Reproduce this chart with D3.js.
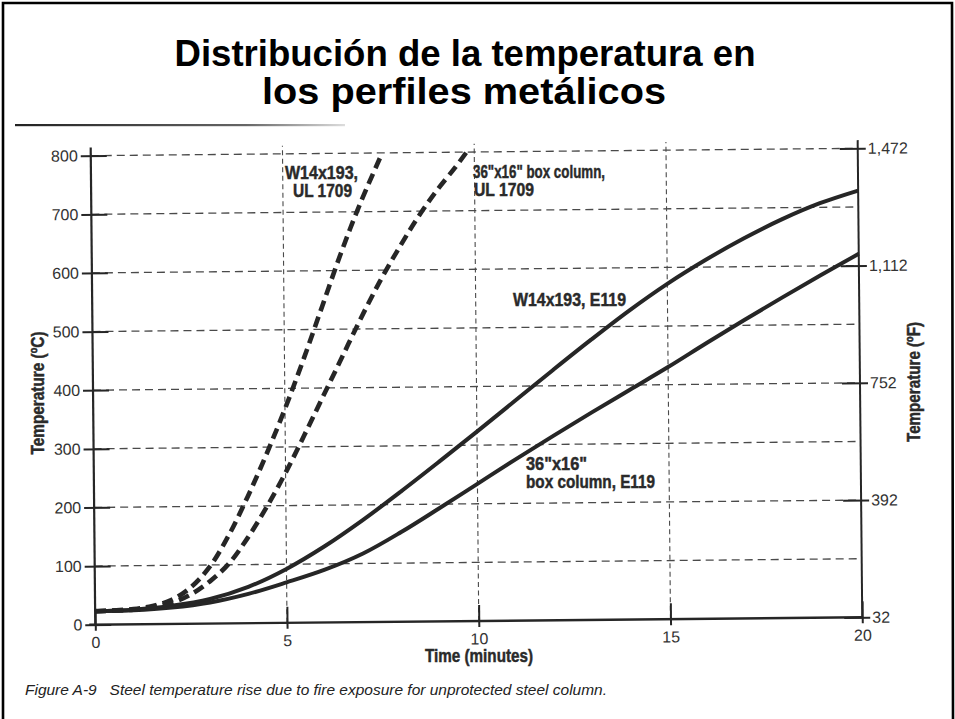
<!DOCTYPE html>
<html><head><meta charset="utf-8">
<script src="https://cdn.jsdelivr.net/npm/d3@7"></script>
<style>
html,body{margin:0;padding:0;background:#fff;}
svg{display:block;}
</style></head><body>
<svg id="chart" width="955" height="719"></svg>
<script>
// ---------- data ----------
const titleLines = ["Distribución de la temperatura en", "los perfiles metálicos"];
const caption = "Figure A-9   Steel temperature rise due to fire exposure for unprotected steel column.";
const xTitle = "Time (minutes)";
const yTitleLeft = "Temperature (ºC)";
const yTitleRight = "Temperature (ºF)";

const xTicks = [0, 5, 10, 15, 20];
const yTicksC = [0, 100, 200, 300, 400, 500, 600, 700, 800];
const yTicksF = [32, 392, 752, 1112, 1472];

// W14x193, E119 (solid)
const timeW14E119 = [0,1,2,3,4,5,6,7,8,9,10,11,12,13,14,15,16,17,18,19,20];
const tempW14E119 = [23,25,31,42,62,92,130,174,222,272,323,375,427,478,527,572,612,648,680,707,728];

// 36"x16" box column, E119 (solid)
const timeBoxE119 = [0,1,2,3,4,5,6,7,8,9,10,11,12,13,14,15,16,17,18,19,20];
const tempBoxE119 = [23,24,28,36,50,69,90,117,153,193,234,275,315,354,392,430,470,509,547,584,620];

// W14x193, UL 1709 (dashed)
const timeW14UL = [0,1,1.5,2,2.5,3,3.5,4,4.5,5,5.5,6,6.5,7,7.6];
const tempW14UL = [23,26,31,41,62,97,150,215,287,365,450,540,630,712,800];

// 36"x16" box column, UL 1709 (dashed)
const timeBoxUL = [0,1,1.5,2,2.5,3,3.5,4,4.5,5,5.5,6,6.5,7,7.5,8,8.5,9,9.5,9.8];
const tempBoxUL = [23,25,29,36,50,72,102,146,198,256,320,386,452,518,580,636,688,734,774,800];

const seriesNames = ["W14x193, E119", "36\"x16\" box column, E119", "W14x193, UL 1709", "36\"x16\" box column, UL 1709"];
const labelW14UL = ["W14x193,", "UL 1709"];
const labelBoxUL = ["36\"x16\" box column,", "UL 1709"];
const labelW14E = ["W14x193, E119"];
const labelBoxE = ["36\"x16\"", "box column, E119"];

// ---------- drawing ----------
const svg = d3.select("#chart");
const sans = "'Liberation Sans',Arial,Helvetica,sans-serif";
const ink = "#262626";

// frame
svg.append("path").attr("d","M3,719 L3,3 L952,3 L953,719")
  .attr("fill","none").attr("stroke","#000").attr("stroke-width",2.6);

// fitted text helper (condensed look via textLength)
function fitText(g, str, px, py, len, opts){
  const t = g.append("text").attr("x",px).attr("y",py)
    .attr("text-anchor",opts.anchor||"start")
    .attr("textLength",len).attr("lengthAdjust","spacingAndGlyphs")
    .style("font-family",sans).style("font-size",opts.size+"px")
    .style("font-weight",opts.weight||"normal").style("font-style",opts.style||"normal")
    .attr("fill",opts.fill||"#2a2a2a").attr("xml:space","preserve").style("white-space","pre")
    .text(str);
  if (opts.heavy) t.attr("stroke",opts.fill||"#2a2a2a").attr("stroke-width",0.45);
  if (opts.transform) t.attr("transform",opts.transform);
  return t;
}

// title
fitText(svg, titleLines[0], 465, 66, 581, {anchor:"middle", size:37, weight:"bold", fill:"#000"});
fitText(svg, titleLines[1], 464, 104, 404, {anchor:"middle", size:37, weight:"bold", fill:"#000"});

// separator line under title
const grad = svg.append("defs").append("linearGradient").attr("id","sepg");
grad.append("stop").attr("offset","0%").attr("stop-color","#222");
grad.append("stop").attr("offset","70%").attr("stop-color","#666");
grad.append("stop").attr("offset","100%").attr("stop-color","#ddd");
svg.append("rect").attr("x",15).attr("y",124).attr("width",330).attr("height",2.2).attr("fill","url(#sepg)");

// scales
const x = d3.scaleLinear().domain([0,20]).range([93,860]);
const y = d3.scaleLinear().domain([0,800]).range([621,152]);
const yF = d3.scaleLinear().domain([32,1472]).range([y(0), y(800)]);
const yTop = 814;

const plot = svg.append("g").attr("transform","rotate(-0.55,477,386)");

// gridlines
plot.append("g").selectAll("line").data(yTicksC.filter(d=>d>0)).enter().append("line")
  .attr("x1",x(0)).attr("x2",x(20)).attr("y1",d=>y(d)).attr("y2",d=>y(d))
  .attr("stroke","#4a4a4a").attr("stroke-width",1.3).attr("stroke-dasharray","8,5");
plot.append("g").selectAll("line").data(xTicks.filter(d=>d>0 && d<20)).enter().append("line")
  .attr("x1",d=>x(d)).attr("x2",d=>x(d)).attr("y1",y(0)).attr("y2",y(yTop))
  .attr("stroke","#4a4a4a").attr("stroke-width",1.1).attr("stroke-dasharray","5,3.5");

// axes
function styleAxis(g){
  g.select(".domain").remove();
  g.selectAll(".tick line").attr("stroke",ink).attr("stroke-width",2);
  g.selectAll(".tick text").attr("fill","#333").style("font-family",sans).style("font-size","16px");
}
const gl = plot.append("g").attr("transform",`translate(${x(0)},0)`)
  .call(d3.axisLeft(y).tickValues(yTicksC).tickSize(10).tickPadding(3));
styleAxis(gl); gl.selectAll(".tick line").attr("x1",16);

const gr = plot.append("g").attr("transform",`translate(${x(20)},0)`)
  .call(d3.axisRight(yF).tickValues(yTicksF).tickFormat(d3.format(",")).tickSize(8).tickPadding(2));
styleAxis(gr); gr.selectAll(".tick line").attr("x1",-18);

const gb = plot.append("g").attr("transform",`translate(0,${y(0)})`)
  .call(d3.axisBottom(x).tickValues(xTicks).tickSize(6).tickPadding(6));
styleAxis(gb); gb.selectAll(".tick line").attr("y1",-16);

// axis lines
plot.append("line").attr("x1",x(0)).attr("x2",x(0)).attr("y1",y(0)).attr("y2",y(yTop))
  .attr("stroke",ink).attr("stroke-width",2.2);
plot.append("line").attr("x1",x(20)).attr("x2",x(20)).attr("y1",y(0)).attr("y2",y(yTop))
  .attr("stroke",ink).attr("stroke-width",2);
plot.append("line").attr("x1",x(0)-6).attr("x2",x(20)).attr("y1",y(0)).attr("y2",y(0))
  .attr("stroke",ink).attr("stroke-width",2.4);

// curves
const line = d3.line().x(d=>x(d[0])).y(d=>y(d[1])).curve(d3.curveCatmullRom.alpha(0.5));
const series = [
  {name:seriesNames[0], t:timeW14E119, v:tempW14E119, dash:null},
  {name:seriesNames[1], t:timeBoxE119, v:tempBoxE119, dash:null},
  {name:seriesNames[2], t:timeW14UL, v:tempW14UL, dash:"11,6"},
  {name:seriesNames[3], t:timeBoxUL, v:tempBoxUL, dash:"11,6"}
];
plot.append("g").selectAll("path").data(series).enter().append("path")
  .attr("d",s=>line(s.t.map((t,i)=>[t,s.v[i]])))
  .attr("fill","none").attr("stroke",ink)
  .attr("stroke-width",s=>s.dash?4.6:4)
  .attr("stroke-dasharray",s=>s.dash)
  .attr("stroke-linecap","butt");

// curve labels
const lab = svg.append("g");
const lopt = {size:17.5, weight:"bold", heavy:true};
fitText(lab, labelW14UL[0], 285, 179, 73, lopt);
fitText(lab, labelW14UL[1], 293, 197, 59, lopt);
fitText(lab, labelBoxUL[0], 473, 178, 132, lopt);
fitText(lab, labelBoxUL[1], 474, 196, 60, lopt);
fitText(lab, labelW14E[0], 513, 306, 113, lopt);
fitText(lab, labelBoxE[0], 526, 470, 61, lopt);
fitText(lab, labelBoxE[1], 526, 488, 129, lopt);

// axis titles
fitText(svg, yTitleLeft, 0, 0, 123, {size:17.5, weight:"bold", heavy:true, anchor:"middle", transform:"translate(44,393) rotate(-90)"});
fitText(svg, yTitleRight, 0, 0, 120, {size:17.5, weight:"bold", heavy:true, anchor:"middle", transform:"translate(920,382) rotate(-90)"});
fitText(svg, xTitle, 479, 662, 108, {size:17.5, weight:"bold", heavy:true, anchor:"middle"});

// caption
fitText(svg, caption, 25, 695, 582, {size:15, style:"italic", fill:"#222"});
</script>
</body></html>
